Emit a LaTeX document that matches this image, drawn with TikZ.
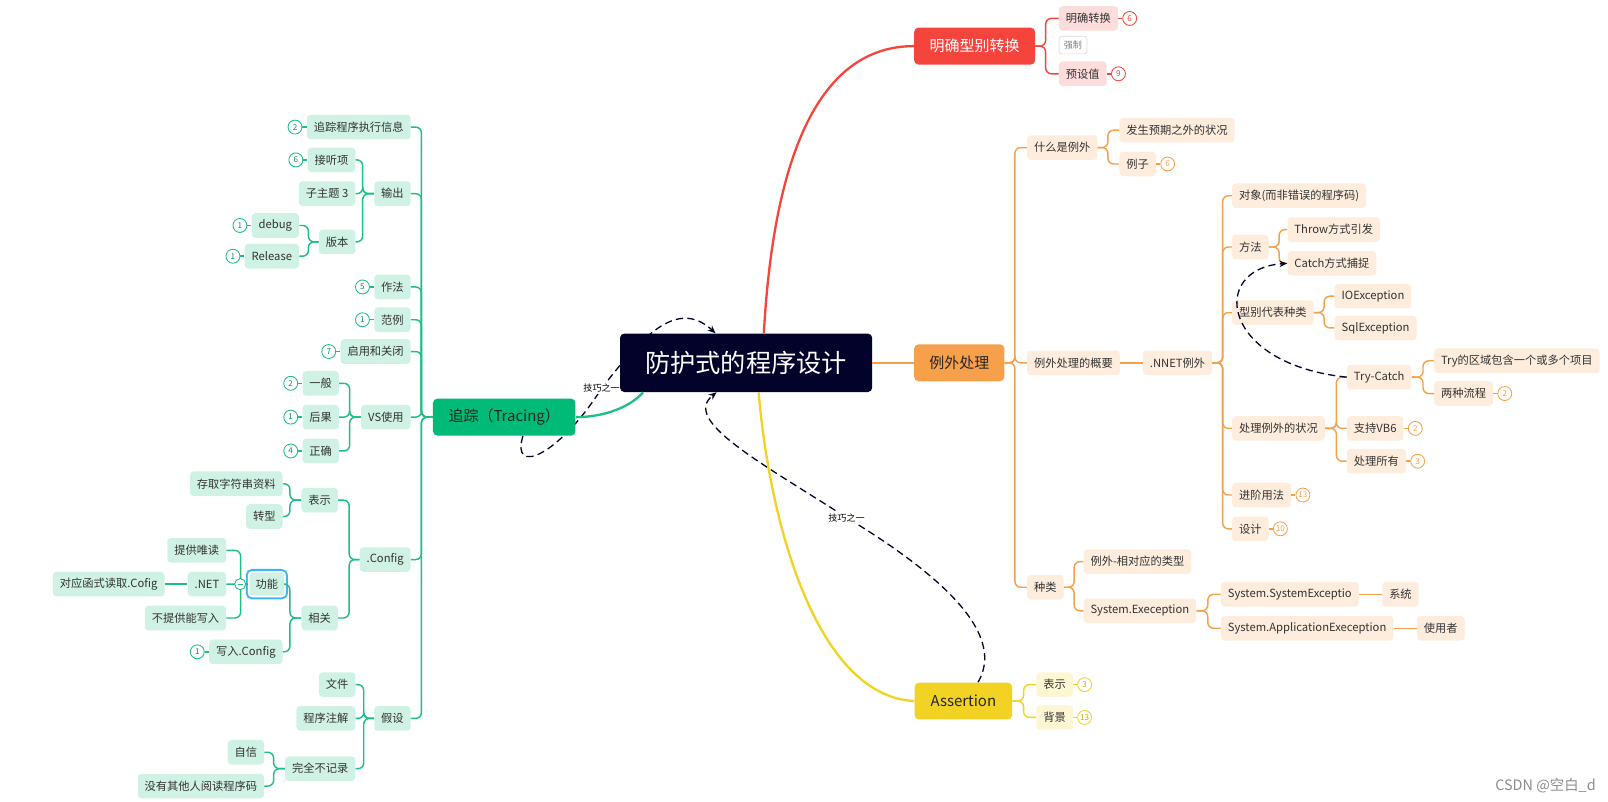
\documentclass[tikz,border=0pt]{standalone}
\usepackage{fontspec}
\setmainfont{Noto Sans CJK SC}
\usetikzlibrary{positioning,arrows.meta,backgrounds}
\definecolor{navy}{HTML}{02022B}
\definecolor{redm}{HTML}{F5443C}
\definecolor{redl}{HTML}{FDDCDC}
\definecolor{orgm}{HTML}{F7A04B}
\definecolor{orgl}{HTML}{FEECDD}
\definecolor{ylwm}{HTML}{F2D324}
\definecolor{ylwl}{HTML}{FDF6D2}
\definecolor{grnm}{HTML}{00BA78}
\definecolor{grnl}{HTML}{CFF2E5}
\definecolor{grnline}{HTML}{1CBF84}
\definecolor{selblue}{HTML}{3BB7F4}
\definecolor{subtext}{HTML}{333333}
\begin{document}
\begin{tikzpicture}[x=0.025cm, y=-0.025cm,
  every node/.style={font=\fontsize{7.8}{9.4}\selectfont, text=subtext},
  rootbox/.style={fill=navy, rounded corners=3pt, minimum width=6.15cm, minimum height=1.425cm, text=white, font=\fontsize{17.5}{21}\selectfont},
  topicbox/.style={rounded corners=3pt, minimum height=0.9cm, font=\fontsize{10.4}{12.5}\selectfont},
  subbox/.style={rounded corners=2.5pt, minimum height=0.6cm, inner xsep=0.17cm, inner ysep=0pt},
  rsub/.style={subbox, fill=redl},
  osub/.style={subbox, fill=orgl},
  ysub/.style={subbox, fill=ylwl},
  gsub/.style={subbox, fill=grnl},
  selbox/.style={gsub, draw=white, line width=1.2pt, preaction={draw=selblue, line width=4pt}},
  notebox/.style={draw=black!15, fill=white, rounded corners=2pt, text=black!50, font=\fontsize{6.3}{7}\selectfont, minimum height=0.43cm, inner xsep=0.12cm, inner ysep=0pt},
  badgebox/.style={circle, fill=white, minimum size=0.34cm, inner sep=0pt, line width=0.6pt, font=\fontsize{5.6}{6}\selectfont},
  rbadge/.style={badgebox, draw=redm, text=redm},
  obadge/.style={badgebox, draw=orgm, text=orgm},
  ybadge/.style={badgebox, draw=ylwm, text=ylwm!80!black},
  gbadge/.style={badgebox, draw=grnline, text=grnline!70!black},
  foldmark/.style={circle, draw=grnline, fill=white, line width=0.6pt, minimum size=0.27cm, inner sep=0pt},
  rline/.style={draw=redm, line width=1pt, rounded corners=4pt},
  oline/.style={draw=orgm, line width=1pt, rounded corners=4pt},
  yline/.style={draw=ylwm, line width=1pt, rounded corners=4pt},
  gline/.style={draw=grnline, line width=1pt, rounded corners=4pt},
  mainline/.style={line width=1.6pt},
  relline/.style={draw=navy, line width=0.9pt, dash pattern=on 5pt off 3pt, -{Stealth[length=5.5pt, width=4.5pt]}},
  tiplabel/.style={fill=white, inner sep=1pt, text=black, font=\fontsize{6.3}{7}\selectfont}]
\useasboundingbox (0,0) rectangle (1569,782);

% main topics
\node[rootbox] (c) at (728,354) {防护式的程序设计};
\node[topicbox, fill=redm, text=white, minimum width=2.95cm] (r) at (951,45) {明确型别转换};
\node[topicbox, fill=orgm, text=black!85, minimum width=2.2cm] (o) at (936,354) {例外处理};
\node[topicbox, fill=ylwm, text=black!85, minimum width=2.375cm] (y) at (940,684) {Assertion};
\node[topicbox, fill=grnm, text=black!85, minimum width=3.475cm] (g) at (492,407) {追踪（Tracing）};

\draw[rline, mainline] (c.59) .. controls (755,150) and (800,45) .. (r.west);
\draw[oline, mainline] (c.east) -- (o.west);
\draw[yline, mainline] (c.293) .. controls (752,520) and (800,680) .. (y.west);
\draw[gline, mainline] (g.east) .. controls (590,407) and (615,397) .. (c.196);

% red
\node[rsub, anchor=west] (r1) at (1033,18) {明确转换};
\node[notebox, anchor=west] (r2) at (1033,44) {强制};
\node[rsub, anchor=west] (r3) at (1033,72) {预设值};
\node[rbadge, right=0.1cm of r1] (r1b) {6};
\node[rbadge, right=0.1cm of r3] (r3b) {9};
\draw[rline] (r.east) -- ++(10,0) |- (r1.west);
\draw[rline] (r.east) -- ++(10,0) |- (r3.west);
\draw[rline] (r1.east) -- (r1b.west);
\draw[rline] (r3.east) -- (r3b.west);

% orange
\node[osub, anchor=west] (o1) at (1002,144) {什么是例外};
\node[osub, anchor=west] (o11) at (1092,127) {发生预期之外的状况};
\node[osub, anchor=west] (o12) at (1092,160) {例子};
\node[obadge, right=0.1cm of o12] (o12b) {6};
\node[osub, anchor=west] (o2) at (1002,354) {例外处理的概要};
\node[osub, right=0.55cm of o2] (o21) {.NNET例外};
\node[osub, anchor=west] (o211) at (1202,191) {对象(而非错误的程序码)};
\node[osub, anchor=west] (o212) at (1202,241) {方法};
\node[osub, anchor=west] (o2121) at (1256,224) {Throw方式引发};
\node[osub, anchor=west] (o2122) at (1256,257) {Catch方式捕捉};
\node[osub, anchor=west] (o213) at (1202,305) {型别代表种类};
\node[osub, anchor=west] (o2131) at (1302,289) {IOException};
\node[osub, anchor=west] (o2132) at (1302,320) {SqlException};
\node[osub, anchor=west] (o214) at (1202,418) {处理例外的状况};
\node[osub, anchor=west] (o2141) at (1314,368) {Try-Catch};
\node[osub, anchor=west] (o21411) at (1399,352) {Try的区域包含一个或多个项目};
\node[osub, anchor=west] (o21412) at (1399,384) {两种流程};
\node[obadge, right=0.1cm of o21412] (o21412b) {2};
\node[osub, anchor=west] (o2142) at (1314,418) {支持VB6};
\node[obadge, right=0.1cm of o2142] (o2142b) {2};
\node[osub, anchor=west] (o2143) at (1314,450) {处理所有};
\node[obadge, right=0.1cm of o2143] (o2143b) {3};
\node[osub, anchor=west] (o215) at (1202,483) {进阶用法};
\node[obadge, right=0.1cm of o215] (o215b) {13};
\node[osub, anchor=west] (o216) at (1202,516) {设计};
\node[obadge, right=0.1cm of o216] (o216b) {10};
\node[osub, anchor=west] (o3) at (1002,573) {种类};
\node[osub, anchor=west] (o31) at (1057,548) {例外-相对应的类型};
\node[osub, anchor=west] (o32) at (1057,596) {System.Exeception};
\node[osub, anchor=west] (o321) at (1191,580) {System.SystemExceptio};
\node[osub, right=0.56cm of o321] (o3211) {系统};
\node[osub, anchor=west] (o322) at (1191,613) {System.ApplicationExeception};
\node[osub, right=0.56cm of o322] (o3221) {使用者};

\draw[oline] (o.east) -- ++(10,0) |- (o1.west);
\draw[oline] (o.east) -- ++(10,0) |- (o2.west);
\draw[oline] (o.east) -- ++(10,0) |- (o3.west);
\draw[oline] (o1.east) -- ++(10,0) |- (o11.west);
\draw[oline] (o1.east) -- ++(10,0) |- (o12.west);
\draw[oline] (o12.east) -- (o12b.west);
\draw[oline] (o2.east) -- (o21.west);
\draw[oline] (o21.east) -- ++(10,0) |- (o211.west);
\draw[oline] (o21.east) -- ++(10,0) |- (o212.west);
\draw[oline] (o21.east) -- ++(10,0) |- (o213.west);
\draw[oline] (o21.east) -- ++(10,0) |- (o214.west);
\draw[oline] (o21.east) -- ++(10,0) |- (o215.west);
\draw[oline] (o21.east) -- ++(10,0) |- (o216.west);
\draw[oline] (o212.east) -- ++(10,0) |- (o2121.west);
\draw[oline] (o212.east) -- ++(10,0) |- (o2122.west);
\draw[oline] (o213.east) -- ++(10,0) |- (o2131.west);
\draw[oline] (o213.east) -- ++(10,0) |- (o2132.west);
\draw[oline] (o214.east) -- ++(11,0) |- (o2141.west);
\draw[oline] (o214.east) -- ++(11,0) |- (o2142.west);
\draw[oline] (o214.east) -- ++(11,0) |- (o2143.west);
\draw[oline] (o2141.east) -- ++(11,0) |- (o21411.west);
\draw[oline] (o2141.east) -- ++(11,0) |- (o21412.west);
\draw[oline] (o21412.east) -- (o21412b.west);
\draw[oline] (o2142.east) -- (o2142b.west);
\draw[oline] (o2143.east) -- (o2143b.west);
\draw[oline] (o215.east) -- (o215b.west);
\draw[oline] (o216.east) -- (o216b.west);
\draw[oline] (o3.east) -- ++(10,0) |- (o31.west);
\draw[oline] (o3.east) -- ++(10,0) |- (o32.west);
\draw[oline] (o32.east) -- ++(11,0) |- (o321.west);
\draw[oline] (o32.east) -- ++(11,0) |- (o322.west);
\draw[oline] (o321.east) -- (o3211.west);
\draw[oline] (o322.east) -- (o3221.west);

% yellow
\node[ysub, anchor=west] (y1) at (1011,668) {表示};
\node[ybadge, right=0.1cm of y1] (y1b) {3};
\node[ysub, anchor=west] (y2) at (1011,700) {背景};
\node[ybadge, right=0.1cm of y2] (y2b) {13};
\draw[yline] (y.east) -- ++(11,0) |- (y1.west);
\draw[yline] (y.east) -- ++(11,0) |- (y2.west);
\draw[yline] (y1.east) -- (y1b.west);
\draw[yline] (y2.east) -- (y2b.west);

% green
\node[gsub, anchor=east] (g1) at (401,124) {追踪程序执行信息};
\node[gbadge, left=0.1cm of g1] (g1b) {2};
\node[gsub, anchor=east] (g2) at (401,189) {输出};
\node[gsub, anchor=east] (g21) at (347,156) {接听项};
\node[gbadge, left=0.1cm of g21] (g21b) {6};
\node[gsub, anchor=east] (g22) at (347,189) {子主题 3};
\node[gsub, anchor=east] (g23) at (347,236) {版本};
\node[gsub, anchor=east] (g231) at (292,220) {debug};
\node[gbadge, left=0.1cm of g231] (g231b) {1};
\node[gsub, anchor=east] (g232) at (292,250) {Release};
\node[gbadge, left=0.1cm of g232] (g232b) {1};
\node[gsub, anchor=east] (g3) at (401,280) {作法};
\node[gbadge, left=0.1cm of g3] (g3b) {5};
\node[gsub, anchor=east] (g4) at (401,312) {范例};
\node[gbadge, left=0.1cm of g4] (g4b) {1};
\node[gsub, anchor=east] (g5) at (401,343) {启用和关闭};
\node[gbadge, left=0.1cm of g5] (g5b) {7};
\node[gsub, anchor=east] (g6) at (401,407) {VS使用};
\node[gsub, anchor=east] (g61) at (331,374) {一般\hspace{0.4cm}};
\node[gbadge, left=0.1cm of g61] (g61b) {2};
\node[gsub, anchor=east] (g62) at (331,407) {后果};
\node[gbadge, left=0.1cm of g62] (g62b) {1};
\node[gsub, anchor=east] (g63) at (331,440) {正确};
\node[gbadge, left=0.1cm of g63] (g63b) {4};
\node[gsub, anchor=east] (g7) at (401,546) {.Config};
\node[gsub, anchor=east] (g71) at (330,488) {表示};
\node[gsub, anchor=east] (g711) at (276,472) {存取字符串资料};
\node[gsub, anchor=east] (g712) at (276,504) {转型};
\node[gsub, anchor=east] (g72) at (330,603) {相关};
\node[selbox, anchor=east] (g721) at (279,570) {功能};
\node[gsub, anchor=east] (g7211) at (221,537) {提供唯读};
\node[gsub, anchor=east] (g7212) at (221,570) {.NET};
\node[gsub, left=0.55cm of g7212] (g72121) {对应函式读取.Cofig};
\node[gsub, anchor=east] (g7213) at (221,603) {不提供能写入};
\node[gsub, anchor=east] (g722) at (276,636) {写入.Config};
\node[gbadge, left=0.1cm of g722] (g722b) {1};
\node[gsub, anchor=east] (g8) at (401,701) {假设};
\node[gsub, anchor=east] (g81) at (347,668) {文件};
\node[gsub, anchor=east] (g82) at (347,701) {程序注解};
\node[gsub, anchor=east] (g83) at (347,750) {完全不记录};
\node[gsub, anchor=east] (g831) at (258,734) {自信};
\node[gsub, anchor=east] (g832) at (258,767) {没有其他人阅读程序码};

\draw[gline] (g.west) -- ++(-11,0) |- (g1.east);
\draw[gline] (g.west) -- ++(-11,0) |- (g2.east);
\draw[gline] (g.west) -- ++(-11,0) |- (g3.east);
\draw[gline] (g.west) -- ++(-11,0) |- (g4.east);
\draw[gline] (g.west) -- ++(-11,0) |- (g5.east);
\draw[gline] (g.west) -- ++(-11,0) |- (g6.east);
\draw[gline] (g.west) -- ++(-11,0) |- (g7.east);
\draw[gline] (g.west) -- ++(-11,0) |- (g8.east);
\draw[gline] (g2.west) -- ++(-11,0) |- (g21.east);
\draw[gline] (g2.west) -- ++(-11,0) |- (g22.east);
\draw[gline] (g2.west) -- ++(-11,0) |- (g23.east);
\draw[gline] (g23.west) -- ++(-10,0) |- (g231.east);
\draw[gline] (g23.west) -- ++(-10,0) |- (g232.east);
\draw[gline] (g6.west) -- ++(-11,0) |- (g61.east);
\draw[gline] (g6.west) -- ++(-11,0) |- (g62.east);
\draw[gline] (g6.west) -- ++(-11,0) |- (g63.east);
\draw[gline] (g7.west) -- ++(-10,0) |- (g71.east);
\draw[gline] (g7.west) -- ++(-10,0) |- (g72.east);
\draw[gline] (g71.west) -- ++(-11,0) |- (g711.east);
\draw[gline] (g71.west) -- ++(-11,0) |- (g712.east);
\draw[gline] (g72.west) -- ++(-11,0) |- (g721.east);
\draw[gline] (g72.west) -- ++(-11,0) |- (g722.east);
\draw[gline] (g721.west) -- ++(-7,0) |- (g7211.east);
\draw[gline] (g721.west) -- ++(-7,0) |- (g7212.east);
\draw[gline] (g721.west) -- ++(-7,0) |- (g7213.east);
\draw[gline] (g7212.west) -- (g72121.east);
\draw[gline] (g8.west) -- ++(-10,0) |- (g81.east);
\draw[gline] (g8.west) -- ++(-10,0) |- (g82.east);
\draw[gline] (g8.west) -- ++(-10,0) |- (g83.east);
\draw[gline] (g83.west) -- ++(-11,0) |- (g831.east);
\draw[gline] (g83.west) -- ++(-11,0) |- (g832.east);
\draw[gline] (g1b.east) -- (g1.west);
\draw[gline] (g21b.east) -- (g21.west);
\draw[gline] (g231b.east) -- (g231.west);
\draw[gline] (g232b.east) -- (g232.west);
\draw[gline] (g3b.east) -- (g3.west);
\draw[gline] (g4b.east) -- (g4.west);
\draw[gline] (g5b.east) -- (g5.west);
\draw[gline] (g61b.east) -- (g61.west);
\draw[gline] (g62b.east) -- (g62.west);
\draw[gline] (g63b.east) -- (g63.west);
\draw[gline] (g722b.east) -- (g722.west);
\node[foldmark, left=0.04cm of g721] (fold) {\textcolor{grnline}{\rule{3.5pt}{0.6pt}}};

% relations
\begin{scope}[on background layer]
\draw[relline] (g.-45) .. controls (498,465) and (545,445) .. (587,379) node[tiplabel] {技巧之一}
  .. controls (625,330) and (660,290) .. (c.136);
\draw[relline] (y.52) .. controls (975,630) and (950,580) .. (826,505) node[tiplabel] {技巧之一}
  .. controls (740,450) and (665,410) .. (c.225);
\end{scope}
\draw[relline] (o2141.west) .. controls (1190,355) and (1180,262) .. (o2122.west);

\node[text=black!45, font=\fontsize{10}{12}\selectfont] (mark) at (1508,767) {CSDN @空白\_d};
\end{tikzpicture}
\end{document}
